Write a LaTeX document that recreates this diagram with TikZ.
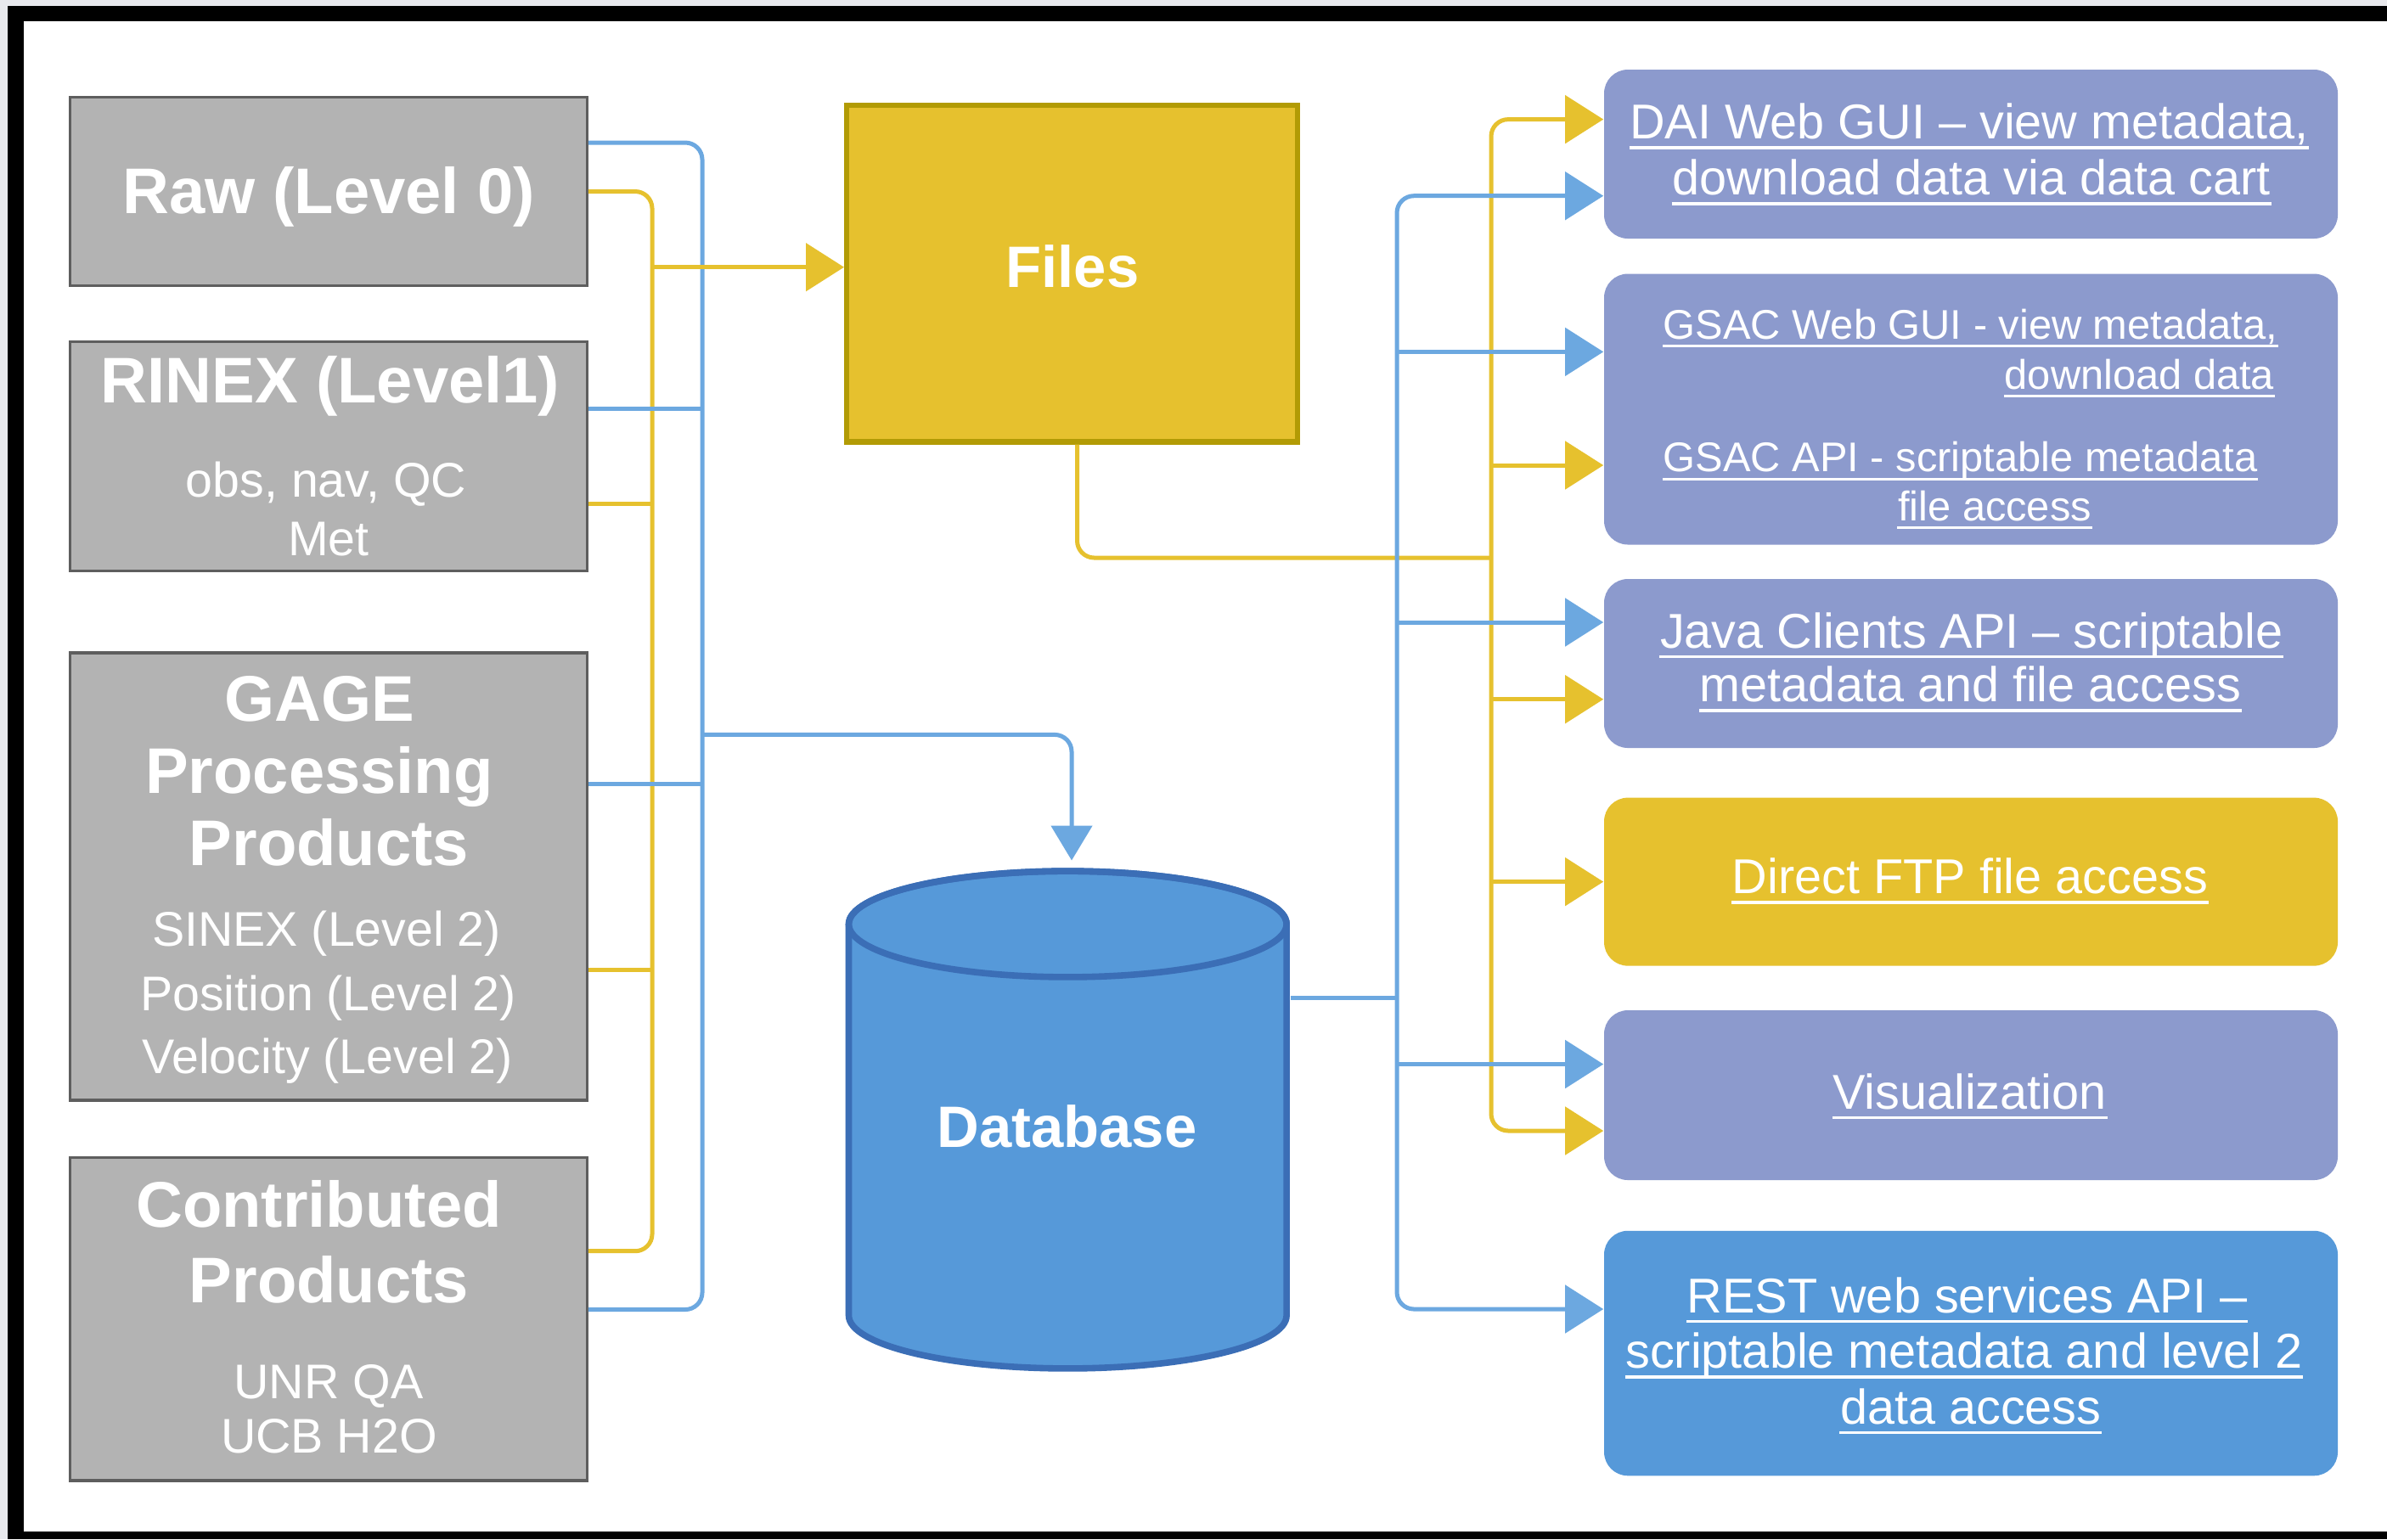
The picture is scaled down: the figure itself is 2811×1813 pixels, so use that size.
\documentclass[tikz,border=0pt]{standalone}
\usepackage{fontspec}
\setmainfont{Liberation Sans}
\usetikzlibrary{arrows.meta}

\definecolor{framebg}{HTML}{E8E9ED}
\definecolor{greyfill}{HTML}{B3B3B3}
\definecolor{boxedge}{HTML}{5E5E5E}
\definecolor{yfill}{HTML}{E6C12E}
\definecolor{filesedge}{HTML}{B29B05}
\definecolor{purplefill}{HTML}{8C9ACD}
\definecolor{bluefill}{HTML}{5699D9}
\definecolor{dbedge}{HTML}{3B6EB6}
\definecolor{yline}{HTML}{E6C12E}
\definecolor{bline}{HTML}{6CA8E0}

\begin{document}
\begin{tikzpicture}[x=0.25pt,y=-0.25pt,
  srcbox/.style={draw=boxedge, line width=0.8pt, fill=greyfill, inner sep=0pt, minimum width=152.1pt},
  outbox/.style={rounded corners=7pt, inner sep=0pt, minimum width=216pt},
  txt/.style={text=white, inner sep=0pt, anchor=base},
  hd/.style={txt, font=\fontsize{19}{22}\selectfont\bfseries},
  sub/.style={txt, font=\fontsize{14.33}{17}\selectfont},
  big/.style={txt, font=\fontsize{17.2}{20}\selectfont\bfseries},
  lnk/.style={txt, font=\fontsize{14.4}{17}\selectfont},
  lnks/.style={txt, font=\fontsize{12.2}{14}\selectfont},
  conn/.style={line width=1.25pt, rounded corners=5pt},
  yl/.style={conn, draw=yline},
  bl/.style={conn, draw=bline},
  tip/.style={-{Triangle[length=11.25pt,width=14pt]}},
  tips/.style={{Triangle[length=11.25pt,width=14pt]}-{Triangle[length=11.25pt,width=14pt]}},
  tipS/.style={-{Triangle[length=10.25pt,width=12pt]}},
  uline/.style={draw=white, line width=0.85pt}
]
\useasboundingbox (0,0) rectangle (2811,1813);

% frame
\fill[framebg] (0,0) rectangle (2811,1813);
\fill[black] (9,7) rectangle (2811,1813);
\fill[white] (28,25) rectangle (2811,1804);

% source boxes
\node[srcbox, minimum height=55.45pt]  (raw)     at (387,225.5) {};
\node[srcbox, minimum height=67.45pt]  (rinex)   at (387,537.5) {};
\node[srcbox, minimum height=131.75pt] (gage)    at (387,1032.5) {};
\node[srcbox, minimum height=95.2pt]   (contrib) at (387,1553.5) {};

\node[hd]  (rawA)   at (387,251)    {Raw (Level 0)};
\node[hd]  (rinA)   at (389,474)    {RINEX (Level1)};
\node[sub] (rinB)   at (384,585)    {obs, nav, QC};
\node[sub] (rinC)   at (387,654)    {Met};
\node[hd]  (gageA)  at (376,849)    {GAGE};
\node[hd]  (gageB)  at (376,934)    {Processing};
\node[hd]  (gageC)  at (387.5,1019) {Products};
\node[sub] (gageD)  at (384.5,1114) {SINEX (Level 2)};
\node[sub] (gageE)  at (386.5,1190) {Position (Level 2)};
\node[sub] (gageF)  at (385.5,1264) {Velocity (Level 2)};
\node[hd]  (conA)   at (375.5,1445) {Contributed};
\node[hd]  (conB)   at (387.5,1534) {Products};
\node[sub] (conC)   at (387,1647.6) {UNR QA};
\node[sub] (conD)   at (387.5,1711.5) {UCB H2O};

% files store
\node[fill=yfill, draw=filesedge, line width=1.6pt, inner sep=0pt,
      minimum width=132.65pt, minimum height=99.15pt] (files) at (1262.5,322) {};
\node[big] (filesA) at (1263,338.7) {Files};

% database cylinder
\node[inner sep=0pt, minimum width=130.75pt, minimum height=148.5pt] (db) at (1257.2,1319) {};
\path[fill=bluefill, draw=dbedge, line width=1.9pt, line join=round]
  (999.5,1088.5) -- (999.5,1549.5)
  arc[start angle=180, end angle=360, x radius=64.45pt, y radius=15.6pt]
  -- (1515.1,1088.5)
  arc[start angle=0, end angle=180, x radius=64.45pt, y radius=15.6pt] -- cycle;
\draw[dbedge, line width=1.9pt] (1257.3,1088.5) ellipse[x radius=64.45pt, y radius=15.6pt];
\node[big] (dbA) at (1256.4,1351) {Database};

% access boxes
\node[outbox, fill=purplefill, minimum height=49.75pt]  (dai)  at (2321,181.5) {};
\node[outbox, fill=purplefill, minimum height=79.75pt]  (gsac) at (2321,482) {};
\node[outbox, fill=purplefill, minimum height=49.75pt]  (java) at (2321,781.5) {};
\node[outbox, fill=yfill,      minimum height=49.5pt]   (ftp)  at (2321,1038.6) {};
\node[outbox, fill=purplefill, minimum height=50pt]     (vis)  at (2321,1290) {};
\node[outbox, fill=bluefill,   minimum height=72.125pt] (rest) at (2321,1594) {};

\node[lnk] (daiA) at (2319,163.6) {DAI Web GUI – view metadata,};
\node[lnk] (daiB) at (2321.5,229.6) {download data via data cart};
\node[lnks, anchor=base west] (gsA) at (1958,399) {GSAC Web GUI - view metadata,};
\node[lnks, anchor=base east] (gsB) at (2679,458) {download data};
\node[lnks, anchor=base west] (gsC) at (1958,555.6) {GSAC API - scriptable metadata};
\node[lnks] (gsD) at (2349,613) {file access};
\node[lnk] (javA) at (2321.7,763) {Java Clients API – scriptable};
\node[lnk] (javB) at (2320.5,826.6) {metadata and file access};
\node[lnk] (ftpA) at (2320,1052.6) {Direct FTP file access};
\node[lnk] (visA) at (2319.5,1306) {Visualization};
\node[lnk] (restA) at (2316.5,1546) {REST web services API –};
\node[lnk] (restB) at (2313,1611.6) {scriptable metadata and level 2};
\node[lnk] (restC) at (2320.8,1677) {data access};

\foreach \n in {daiA,daiB,javA,javB,ftpA,visA,restA,restB,restC}
  \draw[uline] ([yshift=-2.6pt]\n.base west) -- ([yshift=-2.6pt]\n.base east);
\foreach \n in {gsA,gsB,gsC,gsD}
  \draw[uline, line width=0.75pt] ([yshift=-2.2pt]\n.base west) -- ([yshift=-2.2pt]\n.base east);

% bus points
\coordinate (lbT) at (827,168);
\coordinate (lbR) at (827,481);
\coordinate (lbD) at (827,865.4);
\coordinate (lbG) at (827,923.6);
\coordinate (lbB) at (827,1542.5);
\coordinate (lyT) at (768,225.5);
\coordinate (lyF) at (768,314.7);
\coordinate (lyR) at (768,593.7);
\coordinate (lyG) at (768,1142);
\coordinate (lyB) at (768,1473.7);
\coordinate (dbIn) at (1262,1013.5);
\coordinate (ryT) at (1756,140.6);
\coordinate (ryG) at (1756,548);
\coordinate (ryJ) at (1756,657);
\coordinate (ryJv) at (1756,823.7);
\coordinate (ryF) at (1756,1038.6);
\coordinate (ryB) at (1756,1332);
\coordinate (rbT) at (1645,230.7);
\coordinate (rbG) at (1645,414.4);
\coordinate (rbJ) at (1645,733);
\coordinate (rbD) at (1645,1175.4);
\coordinate (rbV) at (1645,1253.5);
\coordinate (rbB) at (1645,1542);

% file flow (yellow)
\draw[yl] (raw.east) -- (lyT) -- (lyB) -- (contrib.east |- lyB);
\draw[yl] (rinex.east |- lyR) -- (lyR);
\draw[yl] (gage.east |- lyG) -- (lyG);
\draw[yl] ([xshift=1.5pt]files.south) |- (ryJ);
\draw[yl, tips] (dai.west |- ryT) -- (ryT) -- (ryB) -- (vis.west |- ryB);
\draw[yl, tip] (ryG) -- (gsac.west |- ryG);
\draw[yl, tip] (ryJv) -- (java.west |- ryJv);
\draw[yl, tip] (ryF) -- (ftp.west |- ryF);

% metadata flow (blue)
\draw[bl] (raw.east |- lbT) -- (lbT) -- (lbB) -- (contrib.east |- lbB);
\draw[bl] (rinex.east |- lbR) -- (lbR);
\draw[bl] (gage.east |- lbG) -- (lbG);
\draw[bl, tipS] (lbD) -- (dbIn |- lbD) -- (dbIn);
\draw[bl] (db.east |- rbD) -- (rbD);
\draw[bl, tips] (dai.west |- rbT) -- (rbT) -- (rbB) -- (rest.west |- rbB);
\draw[bl, tip] (rbG) -- (gsac.west |- rbG);
\draw[bl, tip] (rbJ) -- (java.west |- rbJ);
\draw[bl, tip] (rbV) -- (vis.west |- rbV);

% yellow feed into the file store drawn last
\draw[yl, tip] (lyF) -- (files.west |- lyF);
\end{tikzpicture}
\end{document}
